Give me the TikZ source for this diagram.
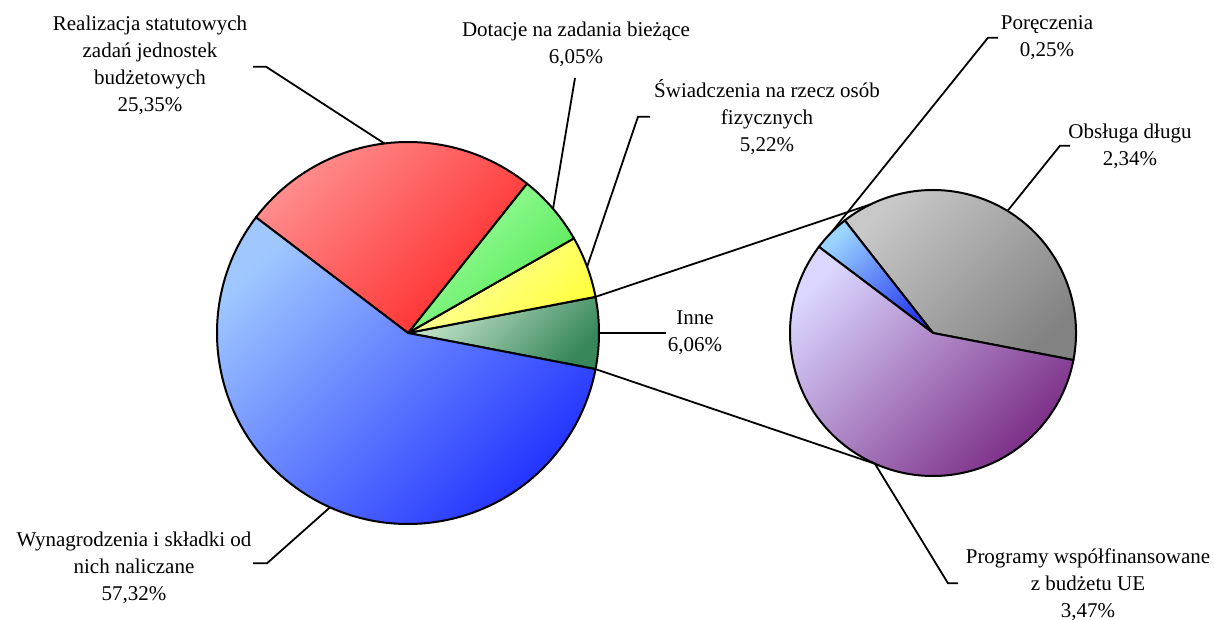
\documentclass[tikz,border=0pt]{standalone}
\usepackage{fontspec}
\setmainfont{Liberation Serif}
\begin{document}
\begin{tikzpicture}[x=1pt,y=1pt,
  slice/.style={draw=black, line width=2pt, line join=round},
  lead/.style={draw=black, line width=1.8pt},
  lbl/.style={align=center, inner sep=0pt, font=\fontsize{21}{27}\selectfont}]
\useasboundingbox (0,0) rectangle (1214,620);
\definecolor{blueL}{RGB}{160,200,255}\definecolor{blueD}{RGB}{30,45,255}
\definecolor{redL}{RGB}{255,145,145}\definecolor{redD}{RGB}{255,40,40}
\definecolor{greenL}{RGB}{165,255,165}\definecolor{greenD}{RGB}{80,232,80}
\definecolor{yelL}{RGB}{255,255,175}\definecolor{yelD}{RGB}{255,255,60}
\definecolor{inL}{RGB}{200,230,205}\definecolor{inD}{RGB}{55,135,90}
\definecolor{grayL}{RGB}{200,200,200}\definecolor{grayD}{RGB}{130,130,130}
\definecolor{purL}{RGB}{218,214,255}\definecolor{purD}{RGB}{120,40,130}
\definecolor{sbL}{RGB}{155,212,255}\definecolor{sbD}{RGB}{40,60,240}
\coordinate (M) at (408,287);
\coordinate (S) at (933,287);
% main pie
\path[slice, top color=inL, bottom color=inD, shading angle=45] (M) -- ++(-10.908:191) arc[start angle=-10.908, end angle=10.908, radius=191] -- cycle;
\path[slice, top color=yelL, bottom color=yelD, shading angle=45] (M) -- ++(10.908:191) arc[start angle=10.908, end angle=29.7, radius=191] -- cycle;
\path[slice, top color=greenL, bottom color=greenD, shading angle=45] (M) -- ++(29.7:191) arc[start angle=29.7, end angle=51.48, radius=191] -- cycle;
\path[slice, top color=redL, bottom color=redD, shading angle=45] (M) -- ++(51.48:191) arc[start angle=51.48, end angle=142.74, radius=191] -- cycle;
\path[slice, top color=blueL, bottom color=blueD, shading angle=45] (M) -- ++(142.74:191) arc[start angle=142.74, end angle=349.092, radius=191] -- cycle;
% secondary pie
\path[slice, top color=grayL, bottom color=grayD, shading angle=45] (S) -- ++(-10.908:143) arc[start angle=-10.908, end angle=128.10, radius=143] -- cycle;
\path[slice, top color=sbL, bottom color=sbD, shading angle=45] (S) -- ++(128.10:143) arc[start angle=128.10, end angle=142.95, radius=143] -- cycle;
\path[slice, top color=purL, bottom color=purD, shading angle=45] (S) -- ++(142.95:143) arc[start angle=142.95, end angle=349.092, radius=143] -- cycle;
% anchor points on the pies
\path (M) ++(10.908:191) coordinate (mTop) (M) ++(-10.908:191) coordinate (mBot);
\path (S) ++(116:143) coordinate (sTop) (S) ++(246.5:143) coordinate (sBot);
\path (M) ++(97.11:191) coordinate (pRe) (M) ++(40.59:191) coordinate (pDo)
      (M) ++(20.3:191) coordinate (pSw) (M) ++(0:191) coordinate (pIn)
      (M) ++(245.9:191) coordinate (pWy);
\path (S) ++(135.5:143) coordinate (pPo) (S) ++(58.6:143) coordinate (pOb)
      (S) ++(246.0:143) coordinate (pPr);
% connectors between pies
\draw[lead] (mTop) -- (sTop);
\draw[lead] (mBot) -- (sBot);
% labels
\node[lbl] (lRe) at (150,555) {Realizacja statutowych\\zadań jednostek\\budżetowych\\25,35\%};
\node[lbl] (lDo) at (576,576) {Dotacje na zadania bieżące\\6,05\%};
\node[lbl] (lSw) at (767,503) {Świadczenia na rzecz osób\\fizycznych\\5,22\%};
\node[lbl] (lIn) at (695,287) {Inne\\6,06\%};
\node[lbl] (lWy) at (134,52) {Wynagrodzenia i składki od\\nich naliczane\\57,32\%};
\node[lbl] (lPo) at (1047,582) {Poręczenia\\0,25\%};
\node[lbl] (lOb) at (1130,474) {Obsługa długu\\2,34\%};
\node[lbl] (lPr) at (1088,35) {Programy współfinansowane\\z budżetu UE\\3,47\%};
% leader bends
\coordinate (bRe1) at (253,553.3); \coordinate (bRe2) at (266,553.3);
\coordinate (bDo) at (575,542);
\coordinate (bSw1) at (650,503.3); \coordinate (bSw2) at (638,503.3);
\coordinate (bIn) at (666,287);
\coordinate (bWy1) at (253,56.7); \coordinate (bWy2) at (267,56.7);
\coordinate (bPo1) at (998,582.3); \coordinate (bPo2) at (988,582.3);
\coordinate (bOb1) at (1070,474.3); \coordinate (bOb2) at (1060,474.3);
\coordinate (bPr1) at (958,36.7); \coordinate (bPr2) at (948,36.7);
% leader lines
\draw[lead] (bRe1) -- (bRe2) -- (pRe);
\draw[lead] (bDo) -- (pDo);
\draw[lead] (bSw1) -- (bSw2) -- (pSw);
\draw[lead] (bIn) -- (pIn);
\draw[lead] (bWy1) -- (bWy2) -- (pWy);
\draw[lead] (bPo1) -- (bPo2) -- (pPo);
\draw[lead] (bOb1) -- (bOb2) -- (pOb);
\draw[lead] (bPr1) -- (bPr2) -- (pPr);
\end{tikzpicture}
\end{document}
